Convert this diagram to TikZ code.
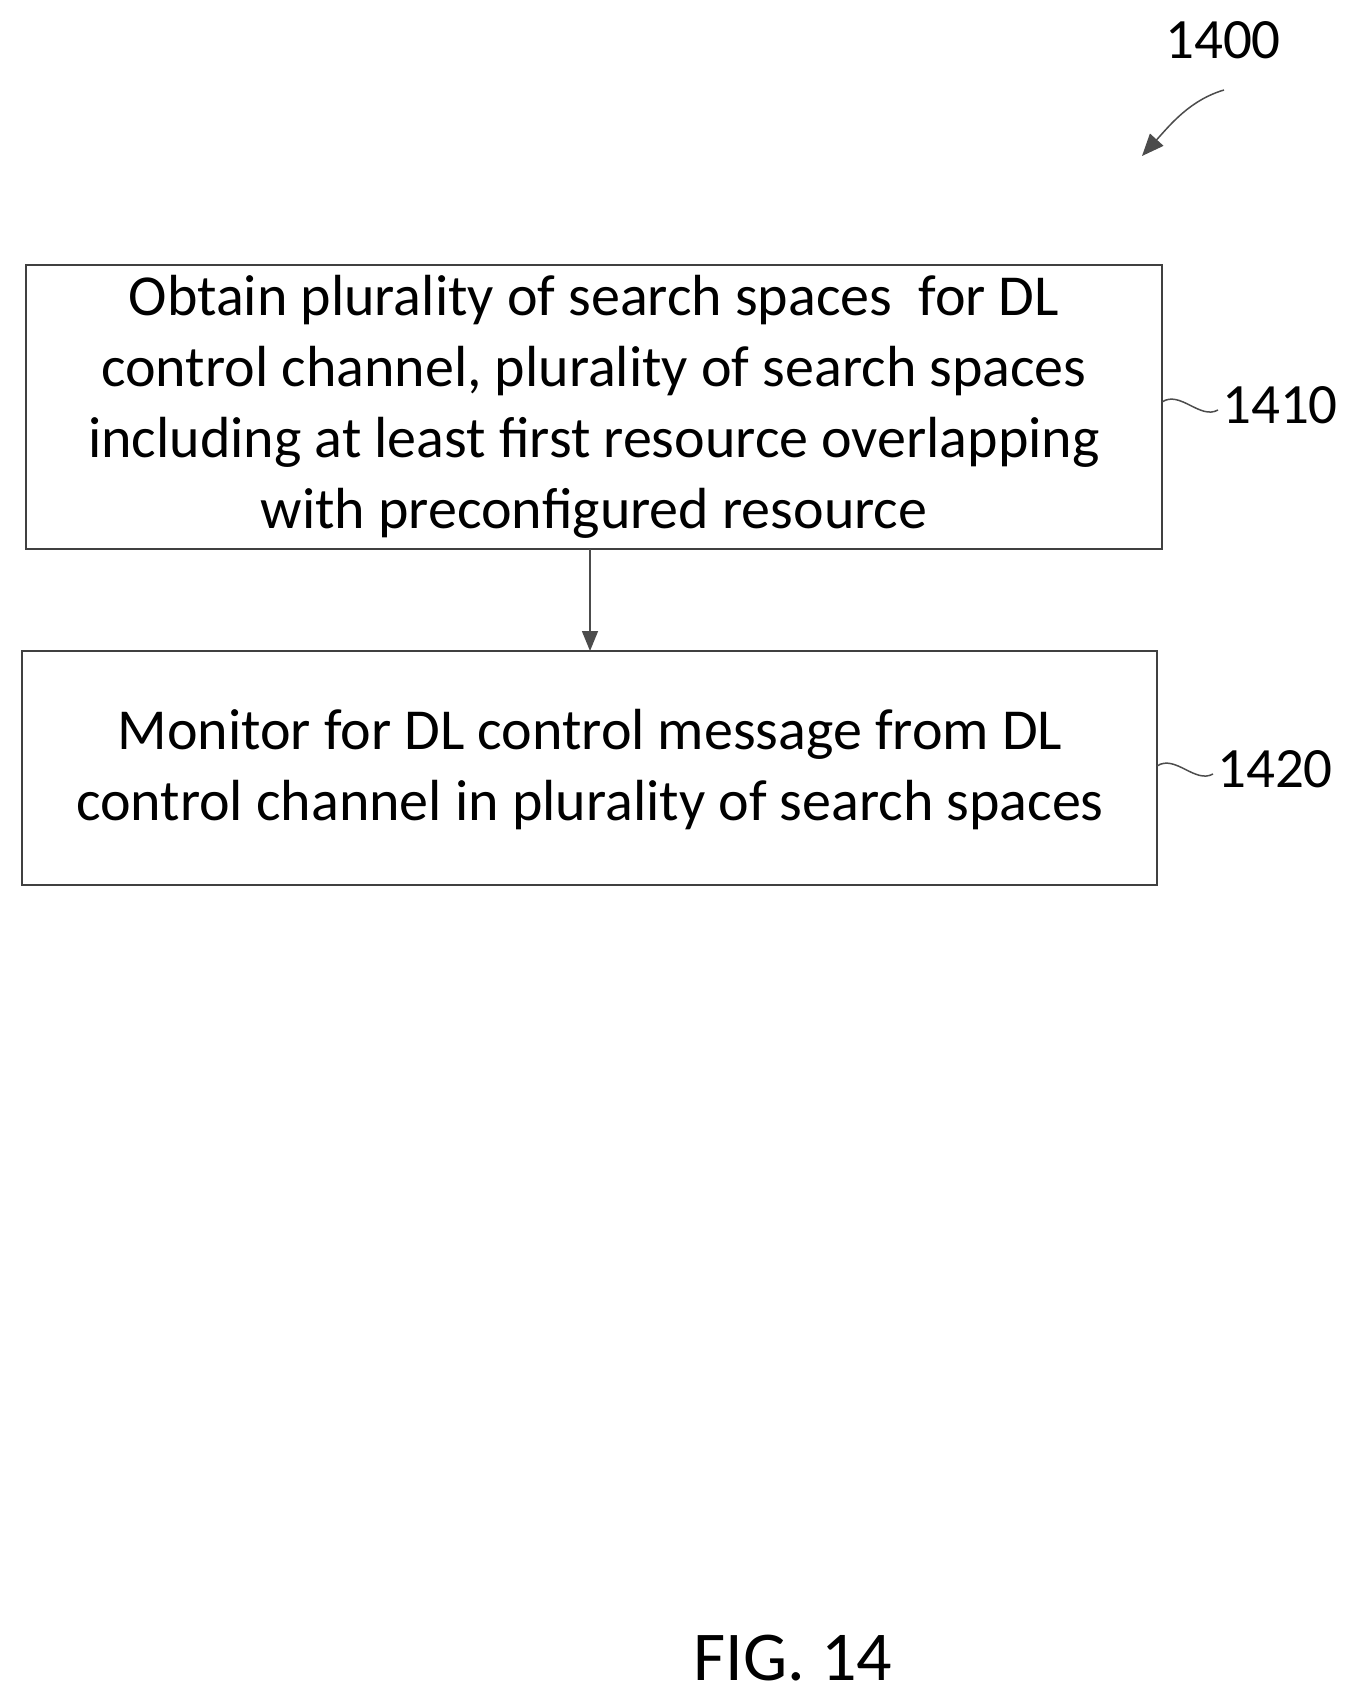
\documentclass[tikz,border=0pt]{standalone}
\usepackage{fontspec}
\setmainfont{Carlito}
\usetikzlibrary{arrows.meta}
\begin{document}
\begin{tikzpicture}[x=1pt,y=-1pt,
  box/.style={draw=black!75,line width=2pt,align=center,font=\fontsize{58}{71}\selectfont},
  lbl/.style={font=\fontsize{57}{66}\selectfont},
  arr/.style={draw=black!70,line width=1.5pt,-{Triangle[length=22pt,width=18pt]}}]
\useasboundingbox (0,0) rectangle (1357,1707);
\draw[box] (26,265) rectangle (1162,549);
\node[box,draw=none] (b1) at (594,407) {Obtain plurality of search spaces\ \ for DL\\control channel, plurality of search spaces\\including at least first resource overlapping\\with preconfigured resource};
\draw[box] (22,651) rectangle (1157,885);
\node[box,draw=none] (b2) at (590,770) {Monitor for DL control message from DL\\control channel in plurality of search spaces};
\coordinate (a1) at (590,549); \coordinate (a2) at (590,651);
\draw[arr,-{Triangle[length=20pt,width=16pt]}] (a1) -- (a2);
\node[lbl] (l1410) at (1280,405) {1410};
\node[lbl] (l1420) at (1275,769) {1420};
\coordinate (s1) at (1162,402); \coordinate (s1e) at (1218,410);
\draw[draw=black!70,line width=1.5pt] (s1) .. controls (1180,390) and (1200,420) .. (s1e);
\coordinate (s2) at (1157,766); \coordinate (s2e) at (1213,774);
\draw[draw=black!70,line width=1.5pt] (s2) .. controls (1175,754) and (1195,784) .. (s2e);
\node[lbl] (l1400) at (1223,40) {1400};
\coordinate (p1) at (1224,90); \coordinate (p2) at (1142,156);
\draw[arr] (p1) .. controls (1190,100) and (1170,125) .. (p2);
\node[font=\fontsize{70}{78}\selectfont] (fig) at (793,1658) {FIG. 14};
\end{tikzpicture}
\end{document}
